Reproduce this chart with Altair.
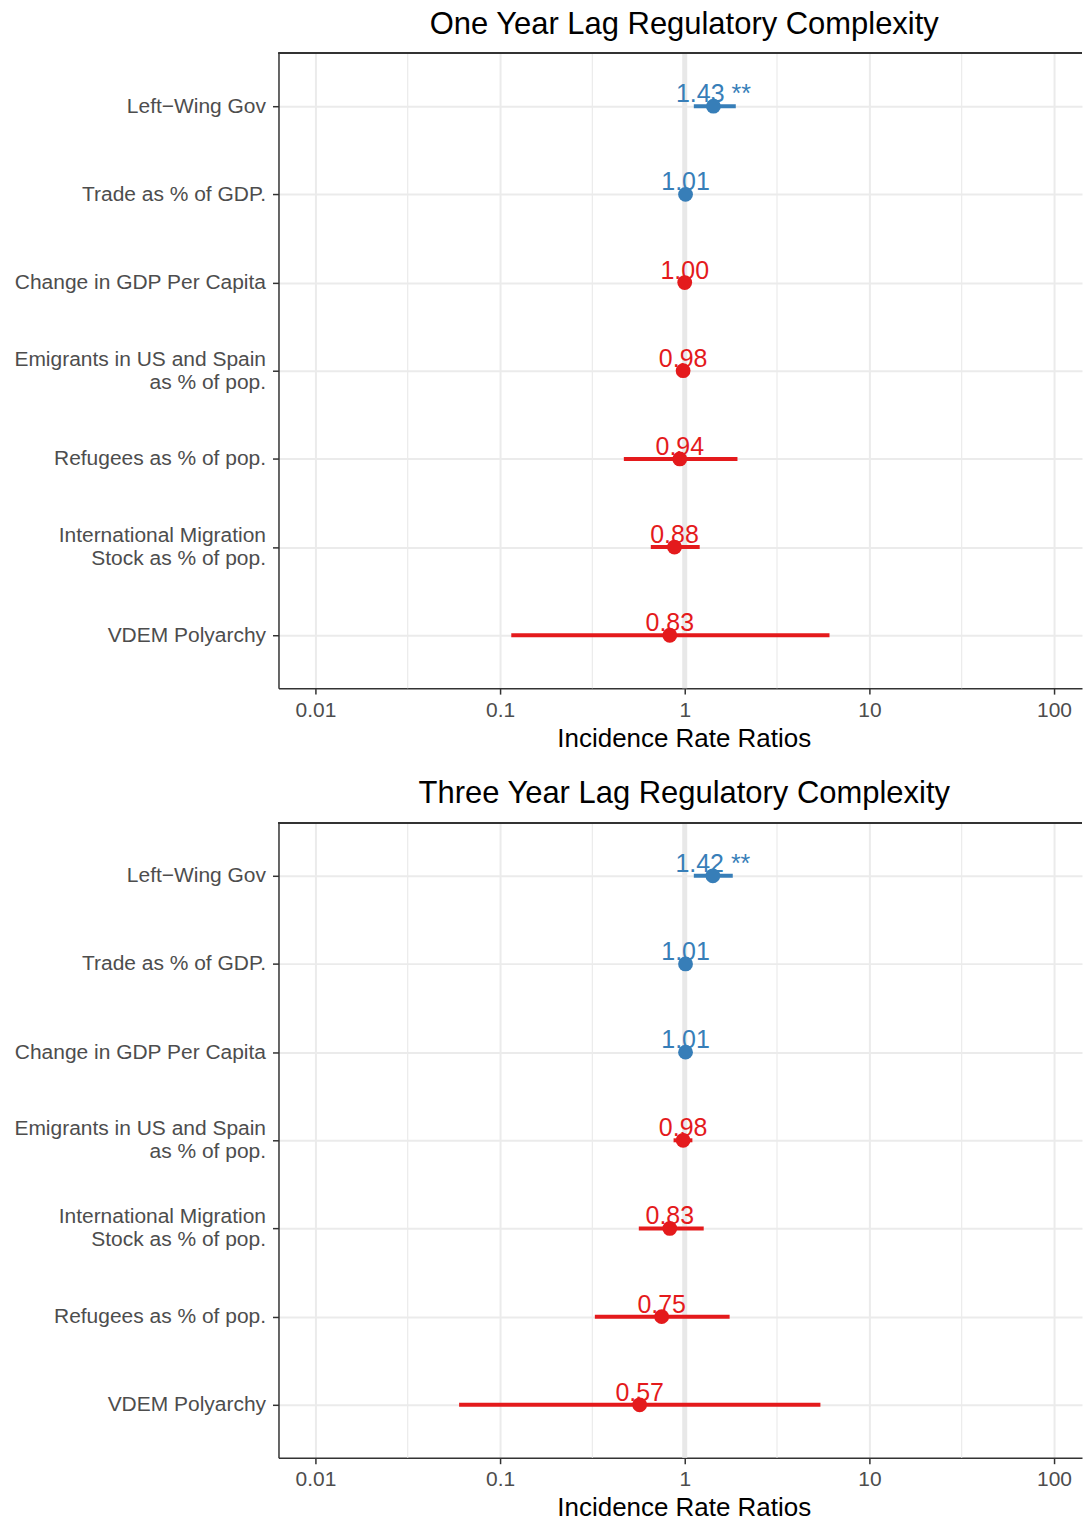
import altair as alt
import pandas as pd

# Incidence rate ratios with 95% intervals, one panel per lag specification
terms_1yr = [
    "Left\u2212Wing Gov",
    "Trade as % of GDP.",
    "Change in GDP Per Capita",
    "Emigrants in US and Spain\nas % of pop.",
    "Refugees as % of pop.",
    "International Migration\nStock as % of pop.",
    "VDEM Polyarchy",
]
irr_1yr = [1.43, 1.01, 1.00, 0.98, 0.94, 0.88, 0.83]
lo_1yr = [1.12, 0.99, 0.99, 0.96, 0.468, 0.655, 0.115]
hi_1yr = [1.89, 1.03, 1.01, 1.00, 1.93, 1.205, 6.08]
stars_1yr = ["**", "", "", "", "", "", ""]

terms_3yr = [
    "Left\u2212Wing Gov",
    "Trade as % of GDP.",
    "Change in GDP Per Capita",
    "Emigrants in US and Spain\nas % of pop.",
    "International Migration\nStock as % of pop.",
    "Refugees as % of pop.",
    "VDEM Polyarchy",
]
irr_3yr = [1.42, 1.01, 1.01, 0.98, 0.83, 0.75, 0.57]
lo_3yr = [1.12, 0.99, 0.99, 0.87, 0.564, 0.326, 0.060]
hi_3yr = [1.82, 1.03, 1.03, 1.10, 1.267, 1.75, 5.43]
stars_3yr = ["**", "", "", "", "", "", ""]

x_ticks = [0.01, 0.1, 1, 10, 100]
x_minor = [0.0316, 0.316, 3.16, 31.6]

FONT = "Liberation Sans"
BLUE = "#377EB8"
RED = "#E41A1C"
W, H = 805, 636


def panel(title, terms, irr, lo, hi, stars):
    df = pd.DataFrame({
        "term": terms, "irr": irr, "lo": lo, "hi": hi,
        "label": [f"{v:.2f}" + (f" {s}" if s else "") for v, s in zip(irr, stars)],
        "dir": ["up" if v > 1 else "down" for v in irr],
    })
    colour = alt.Color("dir:N", scale=alt.Scale(domain=["up", "down"], range=[BLUE, RED]), legend=None)
    xscale = alt.Scale(type="log", domain=[10 ** -2.2, 141.7], nice=False)
    xaxis = alt.Axis(values=x_ticks, format="~g", title="Incidence Rate Ratios", titleX=406)
    x = alt.X("irr:Q", scale=xscale, axis=xaxis)
    # two-line labels are lifted by half a line so they sit centred on their tick
    yaxis = alt.Axis(
        title=None, grid=True,
        labelExpr="split(datum.label, '\\n')",
        labelOffset={"condition": {"test": "indexof(datum.value, '\\n') >= 0", "value": -11.5},
                     "value": 0},
    )
    y = alt.Y("term:N", sort=terms, scale=alt.Scale(type="point", padding=0.6), axis=yaxis)

    minor = alt.Chart(pd.DataFrame({"v": x_minor})).mark_rule(
        color="#EBEBEB", strokeWidth=1.2).encode(x=alt.X("v:Q", scale=xscale, axis=xaxis))
    one = alt.Chart(pd.DataFrame({"v": [1]})).mark_rule(
        color="#E8E8E8", strokeWidth=5).encode(x=alt.X("v:Q", scale=xscale, axis=xaxis))
    base = alt.Chart(df)
    bars = base.mark_rule(strokeWidth=4).encode(
        x=alt.X("lo:Q", scale=xscale, axis=xaxis), x2="hi:Q", y=y, color=colour)
    dots = base.mark_circle(size=220, opacity=1).encode(x=x, y=y, color=colour)
    text = base.mark_text(fontSize=25, baseline="alphabetic", dy=-4, font=FONT).encode(
        x=x, y=y, text="label:N", color=colour)
    border = alt.Chart(df).mark_rule(color="#333333", strokeWidth=1.5).encode(
        x=alt.value(0), x2=alt.value(W), y=alt.value(0))

    return alt.layer(minor, one, bars, dots, text, border).properties(
        width=W, height=H,
        title=alt.TitleParams(title, fontSize=31, font=FONT, fontWeight="normal",
                              anchor="middle", dx=4, offset=10, color="black"),
    )


chart = alt.vconcat(
    panel("One Year Lag Regulatory Complexity", terms_1yr, irr_1yr, lo_1yr, hi_1yr, stars_1yr),
    panel("Three Year Lag Regulatory Complexity", terms_3yr, irr_3yr, lo_3yr, hi_3yr, stars_3yr),
    spacing=27,
).properties(
    padding={"left": 13, "top": 7, "right": 0, "bottom": 0},
    background="white",
).configure_view(stroke=None).configure_axis(
    labelFont=FONT, titleFont=FONT,
    labelFontSize=21, labelColor="#4D4D4D",
    titleFontSize=26, titleFontWeight="normal", titleColor="black",
    domainColor="#333333", domainWidth=1.5,
    tickColor="#333333", tickWidth=1.5, tickSize=6,
    gridColor="#EBEBEB", gridWidth=2,
    labelPadding=5, titlePadding=5,
).configure_axisY(labelPadding=7, labelLineHeight=23, labelLimit=400)

chart.save("out.html", embed_options={"renderer": "svg", "actions": False})
